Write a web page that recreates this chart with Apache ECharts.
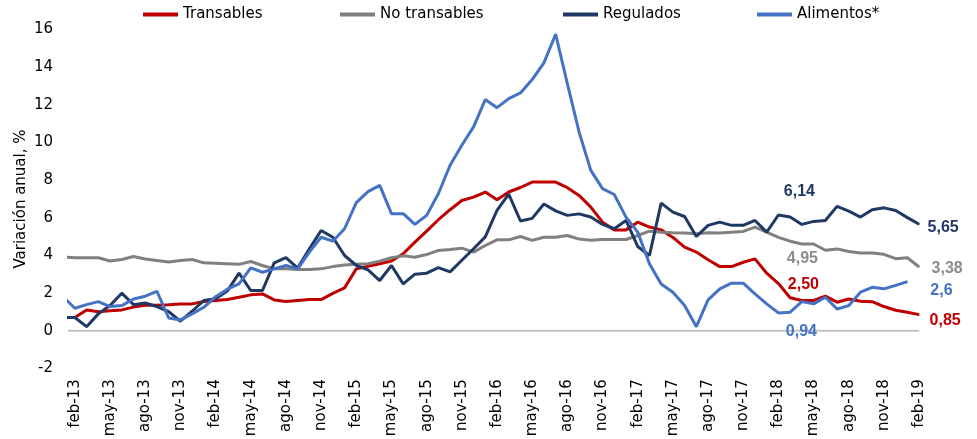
<!DOCTYPE html>
<html><head><meta charset="utf-8">
<script src="https://cdn.jsdelivr.net/npm/echarts@6/dist/echarts.min.js"></script>
<style>html,body{margin:0;padding:0;background:#fff}#c{width:977px;height:439px}</style>
</head><body><div id="c"></div>
<script>
// ---------- DATA ----------
const months = [
 'ene-13','feb-13','mar-13','abr-13','may-13','jun-13','jul-13','ago-13','sep-13','oct-13','nov-13','dic-13',
 'ene-14','feb-14','mar-14','abr-14','may-14','jun-14','jul-14','ago-14','sep-14','oct-14','nov-14','dic-14',
 'ene-15','feb-15','mar-15','abr-15','may-15','jun-15','jul-15','ago-15','sep-15','oct-15','nov-15','dic-15',
 'ene-16','feb-16','mar-16','abr-16','may-16','jun-16','jul-16','ago-16','sep-16','oct-16','nov-16','dic-16',
 'ene-17','feb-17','mar-17','abr-17','may-17','jun-17','jul-17','ago-17','sep-17','oct-17','nov-17','dic-17',
 'ene-18','feb-18','mar-18','abr-18','may-18','jun-18','jul-18','ago-18','sep-18','oct-18','nov-18','dic-18',
 'ene-19','feb-19'];
const tickLabels = ['feb-13','may-13','ago-13','nov-13','feb-14','may-14','ago-14','nov-14','feb-15','may-15',
 'ago-15','nov-15','feb-16','may-16','ago-16','nov-16','feb-17','may-17','ago-17','nov-17','feb-18','may-18',
 'ago-18','nov-18','feb-19'];
const yTicks = [-2, 0, 2, 4, 6, 8, 10, 12, 14, 16];
const yTitle = 'Variación anual, %';
const baselineValue = 0;

const transables = [0.7,0.7,1.1,1.0,1.05,1.1,1.25,1.35,1.35,1.38,
 1.42,1.42,1.55,1.6,1.65,1.77,1.9,1.95,1.63,1.55,
 1.6,1.65,1.65,1.98,2.27,3.28,3.42,3.55,3.7,4.08,
 4.7,5.28,5.89,6.42,6.91,7.09,7.36,6.95,7.36,7.6,
 7.89,7.89,7.89,7.59,7.18,6.56,5.76,5.35,5.35,5.76,
 5.5,5.35,4.95,4.43,4.17,3.76,3.4,3.4,3.63,3.81,
 3.05,2.5,1.75,1.6,1.6,1.83,1.51,1.68,1.56,1.54,
 1.28,1.08,0.98,0.85];
const noTransables = [3.9,3.87,3.87,3.87,3.7,3.78,3.94,3.8,3.72,3.65,
 3.72,3.78,3.6,3.58,3.55,3.52,3.67,3.46,3.28,3.28,
 3.25,3.25,3.28,3.4,3.49,3.53,3.55,3.69,3.87,3.97,
 3.9,4.04,4.26,4.31,4.38,4.17,4.52,4.82,4.82,5.0,
 4.79,4.96,4.96,5.05,4.86,4.8,4.84,4.84,4.84,5.05,
 5.28,5.23,5.2,5.18,5.14,5.2,5.18,5.23,5.27,5.5,
 5.23,4.95,4.75,4.6,4.6,4.27,4.34,4.2,4.12,4.12,
 4.05,3.82,3.87,3.38];
const regulados = [0.7,0.7,0.21,0.89,1.33,1.99,1.38,1.47,1.28,1.01,
 0.5,1.03,1.6,1.7,2.1,3.05,2.13,2.13,3.6,3.87,
 3.32,4.34,5.32,4.96,3.99,3.46,3.23,2.66,3.46,2.48,
 3.0,3.05,3.35,3.12,3.74,4.35,4.98,6.38,7.25,5.82,
 5.96,6.72,6.36,6.12,6.2,6.03,5.64,5.41,5.85,4.47,
 3.99,6.77,6.29,6.06,5.0,5.59,5.76,5.59,5.59,5.85,
 5.23,6.14,6.03,5.64,5.8,5.85,6.6,6.35,6.03,6.42,
 6.52,6.38,6.0,5.65];
const alimentos = [1.8,1.19,1.38,1.54,1.28,1.33,1.68,1.83,2.09,0.67,
 0.57,0.89,1.24,1.8,2.2,2.48,3.33,3.1,3.28,3.46,
 3.28,4.17,4.96,4.75,5.41,6.8,7.38,7.71,6.21,6.21,
 5.64,6.12,7.27,8.78,9.84,10.82,12.27,11.84,12.32,12.62,
 13.33,14.22,15.74,13.12,10.55,8.51,7.54,7.23,6.03,5.23,
 3.55,2.48,2.04,1.33,0.21,1.63,2.22,2.52,2.52,1.95,
 1.42,0.94,0.98,1.54,1.42,1.77,1.15,1.33,2.04,2.3,
 2.22,2.4,2.6,null];
const seriesNames = ['Transables','No transables','Regulados','Alimentos*'];

// ---------- STYLE ----------
const FONT = 'DejaVu Sans';
const colors = ['#C00000','#808080','#1F3864','#4472C4'];
const labelColors = ['#C00000','#8C8C8C','#1F3864','#4472C4'];
const zeroColor = '#C4C4C4';
const legendLeft = [143, 340, 563, 757];
// labelled points: series index -> list of [month label, decimals, offset]
const labelled = {
  0: [['feb-18', 2, [25, 1]], ['feb-19', 2, [26, 6]]],
  1: [['feb-18', 2, [24, 21]], ['feb-19', 2, [28, 2]]],
  2: [['feb-18', 2, [21, -23]], ['feb-19', 2, [24, 3]]],
  3: [['feb-18', 2, [23, 19]], ['ene-19', 1, [34, 9]]]
};

const allVals = [transables, noTransables, regulados, alimentos];
const tickIdx = tickLabels.map(t => months.indexOf(t));

function buildData(k) {
  const vals = allVals[k];
  const lab = {};
  (labelled[k] || []).forEach(l => { lab[months.indexOf(l[0])] = l; });
  const out = [];
  vals.forEach((v, i) => {
    if (v === null) return;
    if (lab[i]) {
      const l = lab[i];
      out.push({
        value: [i, v],
        label: {
          show: true, position: 'inside', offset: l[2],
          formatter: () => v.toFixed(l[1]).replace('.', ','),
          color: labelColors[k], fontWeight: 'bold', fontSize: 16, fontFamily: 'Liberation Sans'
        }
      });
    } else out.push([i, v]);
  });
  return out;
}

const series = [{
  // zero baseline across the time span (clipped to the plot like the other lines)
  name: 'base', type: 'line', data: months.map((m, i) => [i, baselineValue]),
  lineStyle: { width: 2, color: zeroColor }, itemStyle: { color: zeroColor },
  showSymbol: false, symbol: 'none', clip: true, z: 1, silent: true,
  emphasis: { disabled: true }
}].concat(seriesNames.map((n, k) => ({
  name: n, type: 'line', data: buildData(k),
  color: colors[k],
  lineStyle: { width: 3, color: colors[k] },
  itemStyle: { color: colors[k] },
  symbol: 'circle', symbolSize: 1, showSymbol: true, showAllSymbol: true,
  clip: true, z: 2 + k,
  label: { show: false },
  emphasis: { disabled: true }
})));

const chart = echarts.init(document.getElementById('c'), null, { renderer: 'canvas' });
chart.setOption({
  animation: false,
  backgroundColor: '#fff',
  grid: { left: 69, right: 52, top: 29.3, bottom: 70.7, outerBoundsMode: 'none', containLabel: false },
  legend: seriesNames.map((n, k) => ({
    data: [n], left: legendLeft[k], top: 7, icon: 'rect', itemWidth: 35, itemHeight: 4,
    padding: 0, itemGap: 0, selectedMode: false,
    textStyle: { fontSize: 15, color: '#000', fontFamily: FONT }
  })),
  graphic: [{
    type: 'text', x: 21, y: 199, rotation: Math.PI / 2, silent: true,
    style: { text: yTitle, fill: '#000', font: '15px "DejaVu Sans"', align: 'center', verticalAlign: 'middle' }
  }],
  xAxis: {
    type: 'value', min: 0.5, max: 73.5, position: 'bottom',
    splitLine: { show: false }, axisTick: { show: false },
    axisLine: { show: false, onZero: false },
    axisLabel: {
      customValues: tickIdx, formatter: v => months[Math.round(v)] || '',
      rotate: 90, fontSize: 15, color: '#000', fontFamily: FONT, margin: 11
    }
  },
  yAxis: {
    type: 'value', min: yTicks[0], max: yTicks[yTicks.length - 1], interval: 2,
    splitLine: { show: false }, axisLine: { show: false }, axisTick: { show: false },
    axisLabel: { fontSize: 15, color: '#000', fontFamily: FONT, margin: 16 }
  },
  series: series
});
</script></body></html>
